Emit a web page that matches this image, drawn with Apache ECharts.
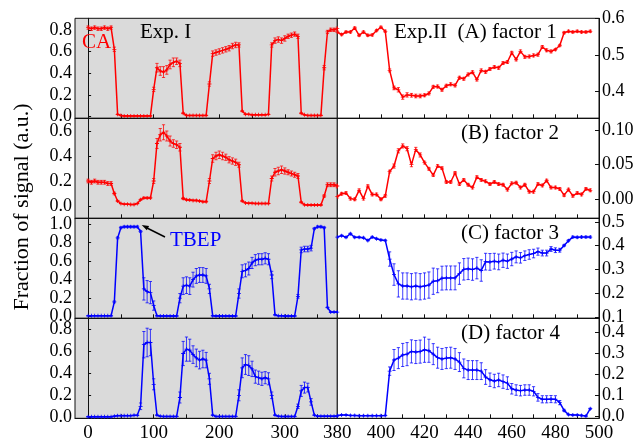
<!DOCTYPE html>
<html><head><meta charset="utf-8">
<script src="https://cdn.jsdelivr.net/npm/echarts@6/dist/echarts.min.js"></script>
<style>html,body{margin:0;padding:0;background:#fff}#c{width:638px;height:439px}</style>
</head><body><div id="c"></div>
<script>
// ---------- Exp. I (left panels) ----------
const xLeft = [0,5,10,15,20,25,30,35,40,45, 50,55,60,65,70,75,80,85,90,95,
  100,105,110,115,120,125,130,135,140,145, 150,155,160,165,170,175,180,185,190,195,
  200,205,210,215,220,225,230,235,240,245, 250,255,260,265,270,275,280,285,290,295,
  300,305,310,315,320,325,330,335,340,345, 350,355,360,365,370,375,380];
const caLeft = [0.82,0.81,0.82,0.81,0.81,0.82,0.81,0.82,0.62,0.02,
  0.01,0.005,0.005,0.005,0.005,0.005,0.005,0.005,0.005,0.005,
  0.25,0.45,0.42,0.41,0.43,0.48,0.50,0.51,0.49,0.03,
  0.01,0.01,0.01,0.01,0.01,0.01,0.01,0.30,0.58,0.59,
  0.60,0.61,0.62,0.63,0.65,0.66,0.66,0.05,0.02,0.02,
  0.015,0.015,0.015,0.015,0.015,0.02,0.66,0.70,0.71,0.70,
  0.72,0.74,0.75,0.76,0.74,0.03,0.015,0.01,0.01,0.01,
  0.01,0.01,0.45,0.78,0.80,0.80,0.81];
const caLeftErr = [.015,.015,.015,.015,.015,.015,.015,.015,.02,.003,
  .003,.003,.003,.003,.003,.003,.003,.003,.003,.003,
  .02,.04,.04,.05,.04,.04,.04,.03,.03,.005,
  .003,.003,.003,.003,.003,.003,.003,.02,.025,.025,
  .025,.025,.025,.025,.025,.025,.02,.005,.003,.003,
  .003,.003,.003,.003,.003,.003,.02,.025,.025,.025,
  .025,.02,.02,.02,.02,.005,.003,.003,.003,.003,
  .003,.003,.02,.015,.015,.015,.015];
const f2Left = [0.20,0.19,0.20,0.19,0.19,0.19,0.18,0.18,0.10,0.04,
  0.02,0.015,0.015,0.012,0.012,0.02,0.05,0.065,0.065,0.065,
  0.20,0.50,0.57,0.59,0.56,0.52,0.50,0.49,0.47,0.06,
  0.05,0.048,0.045,0.045,0.04,0.035,0.035,0.20,0.38,0.40,
  0.41,0.40,0.39,0.37,0.36,0.35,0.33,0.04,0.025,0.022,
  0.022,0.02,0.02,0.02,0.02,0.02,0.22,0.27,0.28,0.29,
  0.28,0.27,0.26,0.25,0.24,0.03,0.01,0.008,0.008,0.008,
  0.008,0.008,0.08,0.17,0.17,0.17,0.16];
const f2LeftErr = [.015,.015,.015,.015,.015,.015,.015,.015,.01,.005,
  .003,.003,.003,.003,.003,.003,.005,.006,.006,.006,
  .02,.04,.05,.06,.04,.04,.03,.03,.03,.008,
  .005,.005,.005,.005,.005,.005,.005,.02,.03,.03,
  .03,.03,.025,.025,.025,.025,.02,.005,.003,.003,
  .003,.003,.003,.003,.003,.003,.02,.03,.03,.03,
  .025,.02,.02,.02,.02,.005,.003,.003,.003,.003,
  .003,.003,.01,.015,.015,.015,.015];
const f3Left = [0.01,0.01,0.01,0.01,0.01,0.01,0.01,0.01,0.16,0.85,
  0.96,0.97,0.97,0.97,0.97,0.97,0.92,0.30,0.27,0.26,
  0.12,0.01,0.008,0.008,0.008,0.008,0.008,0.008,0.20,0.33,
  0.34,0.33,0.40,0.44,0.45,0.45,0.44,0.30,0.01,0.008,
  0.008,0.008,0.008,0.008,0.008,0.008,0.25,0.49,0.50,0.52,
  0.58,0.61,0.62,0.62,0.63,0.62,0.45,0.02,0.01,0.01,
  0.008,0.008,0.008,0.008,0.22,0.72,0.73,0.73,0.74,0.95,
  0.97,0.97,0.96,0.10,0.05,0.05,0.05];
const f3LeftErr = [.003,.003,.003,.003,.003,.003,.003,.003,.01,.01,
  .01,.01,.01,.01,.01,.01,.01,.12,.12,.12,
  .05,.003,.003,.003,.003,.003,.003,.003,.05,.09,
  .09,.09,.08,.08,.08,.08,.08,.05,.003,.003,
  .003,.003,.003,.003,.003,.003,.05,.07,.07,.07,
  .06,.06,.06,.06,.06,.06,.04,.003,.003,.003,
  .003,.003,.003,.003,.02,.03,.03,.03,.03,.01,
  .01,.01,.01,.005,.003,.003,.003];
const f4Left = [0.005,0.005,0.005,0.005,0.005,0.005,0.005,0.005,0.01,0.015,
  0.015,0.015,0.015,0.015,0.018,0.018,0.10,0.66,0.68,0.68,
  0.30,0.02,0.01,0.008,0.008,0.008,0.008,0.008,0.18,0.58,
  0.62,0.61,0.57,0.54,0.52,0.53,0.52,0.35,0.02,0.008,
  0.008,0.008,0.008,0.008,0.008,0.008,0.20,0.45,0.48,0.47,
  0.44,0.37,0.36,0.35,0.36,0.35,0.20,0.02,0.01,0.008,
  0.008,0.008,0.008,0.008,0.10,0.24,0.27,0.27,0.14,0.02,
  0.01,0.01,0.01,0.01,0.01,0.01,0.01];
const f4LeftErr = [.003,.003,.003,.003,.003,.003,.003,.003,.003,.003,
  .003,.003,.003,.003,.003,.003,.03,.12,.13,.12,
  .05,.003,.003,.003,.003,.003,.003,.003,.05,.11,
  .11,.10,.08,.08,.08,.08,.07,.05,.003,.003,
  .003,.003,.003,.003,.003,.003,.05,.09,.09,.09,
  .07,.06,.06,.06,.055,.055,.03,.003,.003,.003,
  .003,.003,.003,.003,.02,.05,.05,.04,.03,.003,
  .003,.003,.003,.003,.003,.003,.003];

// ---------- Exp. II (right panels) ----------
const xRight = [380,382,384,386,388,390,392,394,396,398,
  400,402,404,406,408,410,412,414,416,418,
  420,422,424,426,428,430,432,434,436,438,
  440,442,444,446,448,450,452,454,456,458,
  460,462,464,466,468,470,472,474,476,478,
  480,482,484,486,488,490,492,494,496];
const f1Right = [0.563,0.556,0.563,0.563,0.574,0.554,0.563,0.554,0.555,0.567,
  0.576,0.565,0.458,0.410,0.405,0.385,0.391,0.390,0.388,0.388,
  0.390,0.395,0.413,0.414,0.405,0.416,0.420,0.417,0.438,0.435,
  0.447,0.453,0.433,0.458,0.454,0.462,0.467,0.465,0.478,0.481,
  0.506,0.488,0.510,0.495,0.496,0.499,0.501,0.522,0.513,0.510,
  0.515,0.526,0.561,0.565,0.563,0.565,0.563,0.563,0.565];
const f1RightErr = [.003,.003,.003,.003,.003,.003,.003,.003,.003,.003,
  .003,.003,.004,.005,.006,.006,.006,.005,.005,.005,
  .004,.004,.004,.004,.004,.004,.004,.004,.004,.004,
  .004,.004,.004,.004,.004,.004,.004,.004,.004,.004,
  .004,.004,.004,.004,.004,.004,.004,.004,.004,.004,
  .003,.003,.003,.003,.003,.003,.003,.003,.003];
const f2Right = [0.004,0.008,0.009,0.001,0.000,0.013,0.001,0.019,0.007,0.007,
  0.000,0.005,0.040,0.048,0.070,0.077,0.073,0.050,0.072,0.064,
  0.053,0.044,0.035,0.048,0.045,0.025,0.025,0.038,0.022,0.028,
  0.021,0.017,0.032,0.028,0.026,0.022,0.025,0.022,0.021,0.014,
  0.023,0.024,0.017,0.021,0.011,0.011,0.022,0.020,0.027,0.017,
  0.017,0.015,0.006,0.014,0.005,0.009,0.007,0.015,0.013];
const f2RightErr = [.002,.002,.002,.002,.002,.002,.002,.002,.002,.002,
  .002,.002,.002,.003,.003,.003,.003,.003,.003,.003,
  .002,.002,.002,.002,.002,.002,.002,.002,.002,.002,
  .002,.002,.002,.002,.002,.002,.002,.002,.002,.002,
  .002,.002,.002,.002,.002,.002,.002,.002,.002,.002,
  .002,.002,.002,.002,.002,.002,.002,.002,.002];
const f3Right = [0.436,0.442,0.435,0.450,0.435,0.435,0.433,0.422,0.436,0.429,
  0.424,0.422,0.344,0.279,0.240,0.231,0.231,0.228,0.231,0.228,
  0.231,0.235,0.251,0.253,0.264,0.265,0.265,0.265,0.283,0.301,
  0.303,0.300,0.306,0.296,0.333,0.332,0.335,0.332,0.339,0.335,
  0.344,0.353,0.349,0.358,0.363,0.367,0.375,0.369,0.369,0.386,
  0.381,0.381,0.401,0.421,0.436,0.435,0.436,0.436,0.436];
const f3RightErr = [.003,.003,.003,.003,.003,.003,.003,.003,.003,.003,
  .003,.003,.03,.045,.055,.055,.055,.055,.055,.055,
  .055,.055,.055,.05,.05,.05,.05,.05,.045,.045,
  .045,.045,.045,.045,.035,.035,.033,.033,.03,.03,
  .028,.025,.022,.02,.02,.018,.015,.012,.012,.01,
  .01,.008,.004,.004,.004,.004,.004,.004,.004];
const f4Right = [0.006,0.008,0.008,0.006,0.006,0.005,0.005,0.005,0.005,0.005,
  0.005,0.006,0.217,0.270,0.279,0.294,0.298,0.311,0.308,0.310,
  0.319,0.314,0.298,0.281,0.275,0.279,0.281,0.275,0.260,0.230,
  0.222,0.222,0.222,0.217,0.189,0.176,0.170,0.175,0.167,0.160,
  0.133,0.127,0.124,0.127,0.127,0.121,0.092,0.083,0.083,0.084,
  0.083,0.067,0.030,0.010,0.008,0.008,0.006,0.003,0.038];
const f4RightErr = [.002,.002,.002,.002,.002,.002,.002,.002,.002,.002,
  .002,.002,.02,.05,.05,.055,.055,.055,.055,.055,
  .06,.055,.05,.05,.05,.05,.05,.05,.045,.045,
  .045,.045,.045,.04,.035,.032,.032,.032,.032,.03,
  .025,.025,.025,.025,.025,.022,.018,.017,.017,.017,
  .017,.01,.005,.003,.003,.003,.003,.003,.003];

// ---------- tick labels ----------
const xLeftLabels = [0,100,200,300];
const xLeftTicks = [0,50,100,150,200,250,300,350];
const xRightLabels = [380,400,420,440,460,480,500];
const xRightTicks = [390,400,410,420,430,440,450,460,470,480,490];
const yLeftLabels = [[0,0.2,0.4,0.6,0.8],[0,0.2,0.4,0.6],[0,0.2,0.4,0.6,0.8,1.0],[0,0.2,0.4,0.6,0.8]];
const yRightLabels = [[0.4,0.5,0.6],[0,0.05,0.10],[0.1,0.2,0.3,0.4,0.5],[0,0.1,0.2,0.3,0.4]];

// ---------- layout ----------
const FONT = 'Liberation Serif';
const RED = '#ff0000', BLUE = '#0000ff';
const rowTop = [18.3,118.3,218.3,318.3];
const rowH = 100;
const leftX = 75, midX = 337.3, rightX = 599;
const yLeftRange = [[-0.0166,0.906],[-0.0984,0.7016],[-0.017,1.0615],[-0.009,0.9]];
const yRightRange = [[0.327,0.6005],[-0.0274,0.1169],[0.0958,0.5146],[-0.0076,0.4686]];
const yRightDec = [1,2,1,1];
const rows = [
  {l:caLeft, le:caLeftErr, r:f1Right, re:f1RightErr, c:RED},
  {l:f2Left, le:f2LeftErr, r:f2Right, re:f2RightErr, c:RED},
  {l:f3Left, le:f3LeftErr, r:f3Right, re:f3RightErr, c:BLUE},
  {l:f4Left, le:f4LeftErr, r:f4Right, re:f4RightErr, c:BLUE}
];

const grids = [], xAxes = [], yAxes = [], series = [];
const PLUS = 'path://M4,0h2v4h4v2h-4v4h-2v-4h-4v-2h4z';
const xLabelStyle = {fontFamily: FONT, fontSize: 19, color: '#000'};
const yLabelStyle = {fontFamily: FONT, fontSize: 18, color: '#000'};

function errSeries(xs, ys, es, idx, color) {
  return {
    type: 'custom', xAxisIndex: idx, yAxisIndex: idx, clip: true, silent: true, z: 2,
    encode: {x: 0, y: [1, 2]},
    data: xs.map((x, i) => [x, ys[i] - es[i], ys[i] + es[i]]),
    renderItem: (params, api) => {
      const x = api.value(0);
      const a = api.coord([x, api.value(1)]);
      const b = api.coord([x, api.value(2)]);
      const c = 1.6;
      const st = {stroke: color, lineWidth: 1, opacity: 0.75};
      return {type: 'group', children: [
        {type: 'line', shape: {x1: a[0], y1: a[1], x2: b[0], y2: b[1]}, style: st},
        {type: 'line', shape: {x1: a[0]-c, y1: a[1], x2: a[0]+c, y2: a[1]}, style: st},
        {type: 'line', shape: {x1: b[0]-c, y1: b[1], x2: b[0]+c, y2: b[1]}, style: st}
      ]};
    }
  };
}
function lineSeries(xs, ys, idx, color) {
  return {
    type: 'line', xAxisIndex: idx, yAxisIndex: idx, z: 3,
    data: xs.map((x, i) => [x, ys[i]]),
    symbol: PLUS, symbolSize: 4, showSymbol: true,
    itemStyle: {color: color}, lineStyle: {color: color, width: 1.5},
    silent: true
  };
}

rows.forEach((row, r) => {
  const bottom = r === 3;
  const li = grids.length;
  grids.push({left: leftX, top: rowTop[r], width: midX - leftX, height: rowH,
    show: true, backgroundColor: '#dadada', borderColor: '#111', borderWidth: 1,
    containLabel: false, outerBoundsMode: 'none'});
  xAxes.push({type: 'value', gridIndex: li, min: -20, max: 380, splitLine: {show: false},
    axisLine: {show: true, onZero: false, lineStyle: {color: '#111'}},
    axisTick: {show: true, inside: true, length: 4, customValues: xLeftTicks, lineStyle: {color: '#111'}},
    axisLabel: {show: bottom, customValues: xLeftLabels, margin: 5, ...xLabelStyle}});
  yAxes.push({type: 'value', gridIndex: li, position: 'left', min: yLeftRange[r][0], max: yLeftRange[r][1],
    splitLine: {show: false},
    axisLine: {show: true, lineStyle: {color: '#111'}},
    axisTick: {show: true, inside: true, length: 3, customValues: yLeftLabels[r], lineStyle: {color: '#111'}},
    axisLabel: {customValues: yLeftLabels[r], margin: 3, formatter: v => Number(v).toFixed(1), ...yLabelStyle}});
  series.push(errSeries(xLeft, row.l, row.le, li, row.c));
  series.push(lineSeries(xLeft, row.l, li, row.c));
  const ri = grids.length;
  grids.push({left: midX, top: rowTop[r], width: rightX - midX, height: rowH,
    show: true, backgroundColor: '#ffffff', borderColor: '#111', borderWidth: 1,
    containLabel: false, outerBoundsMode: 'none'});
  xAxes.push({type: 'value', gridIndex: ri, min: 380, max: 500, splitLine: {show: false},
    axisLine: {show: true, onZero: false, lineStyle: {color: '#111'}},
    axisTick: {show: true, inside: true, length: 4, customValues: xRightTicks, lineStyle: {color: '#111'}},
    axisLabel: {show: bottom, customValues: xRightLabels, margin: 5, ...xLabelStyle}});
  yAxes.push({type: 'value', gridIndex: ri, position: 'right', min: yRightRange[r][0], max: yRightRange[r][1],
    splitLine: {show: false},
    axisLine: {show: true, lineStyle: {color: '#111'}},
    axisTick: {show: true, inside: true, length: 4, customValues: yRightLabels[r], lineStyle: {color: '#111'}},
    axisLabel: {customValues: yRightLabels[r], margin: 3, formatter: v => Number(v).toFixed(yRightDec[r]), ...yLabelStyle}});
  series.push(errSeries(xRight, row.r, row.re, ri, row.c));
  series.push(lineSeries(xRight, row.r, ri, row.c));
});

function txt(x, y, s, color) {
  return {type: 'text', x: x, y: y, z: 100,
    style: {text: s, fill: color, font: '21px "' + FONT + '"', textAlign: 'left', textVerticalAlign: 'middle'}};
}
const graphics = [
  txt(82, 42, 'CA', RED),
  txt(140, 32, 'Exp. I', '#000'),
  txt(394, 32, 'Exp.II  (A) factor 1', '#000'),
  txt(461, 133, '(B) factor 2', '#000'),
  txt(461, 233, '(C) factor 3', '#000'),
  txt(461, 333, '(D) factor 4', '#000'),
  txt(170, 240, 'TBEP', BLUE),
  {type: 'line', z: 100, shape: {x1: 165, y1: 237, x2: 147, y2: 228}, style: {stroke: '#000', lineWidth: 1.5}},
  {type: 'polygon', z: 100, shape: {points: [[141.7,225],[149.1,225.9],[146.8,230.3]]}, style: {fill: '#000'}},
  {type: 'text', x: 22, y: 207, rotation: Math.PI / 2, z: 100,
    style: {text: 'Fraction of signal (a.u.)', fill: '#000', font: '22px "' + FONT + '"', textAlign: 'center', textVerticalAlign: 'middle'}}
];

const chart = echarts.init(document.getElementById('c'), null, {renderer: 'canvas'});
chart.setOption({
  animation: false,
  backgroundColor: '#ffffff',
  grid: grids, xAxis: xAxes, yAxis: yAxes, series: series,
  graphic: graphics
});
</script></body></html>
